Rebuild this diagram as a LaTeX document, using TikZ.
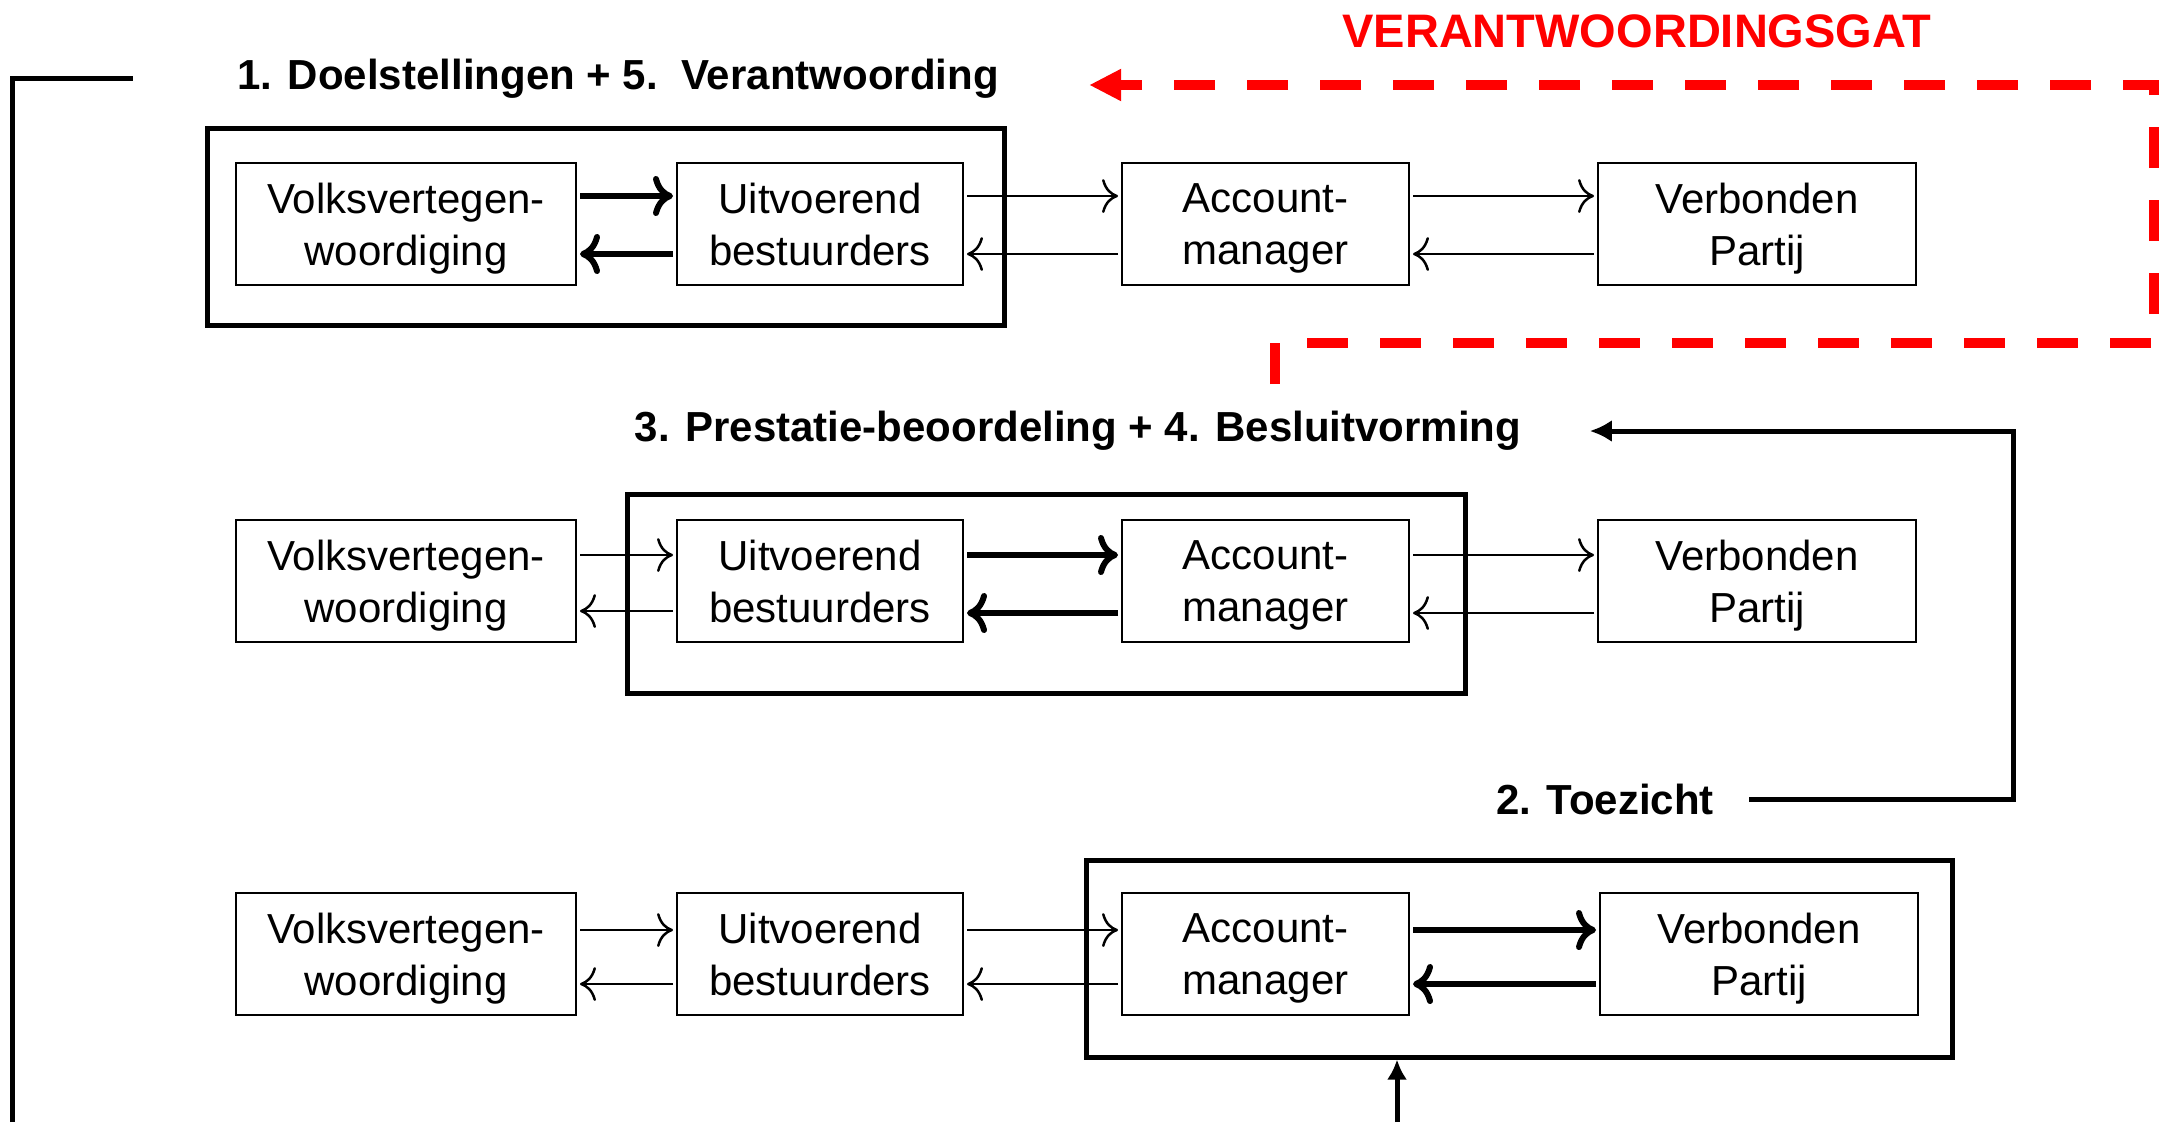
\documentclass[tikz,border=0pt]{standalone}
\usepackage{fontspec}
\setmainfont{Liberation Sans}
\usepackage{tikz}
\usetikzlibrary{arrows.meta}
\usetikzlibrary{positioning}
\usetikzlibrary{fit}

\begin{document}
\begin{tikzpicture}[x=1pt,y=1pt,
    blok/.style={draw,line width=2pt,minimum width=#1,minimum height=122pt,align=center,inner sep=0pt,text depth=0pt,font=\fontsize{42}{52}\selectfont},
    groep/.style={draw,line width=5pt,inner sep=0pt},
    kop/.style={font=\fontsize{42}{51}\selectfont\bfseries},
    dun/.style={line width=2.5pt,-{To[length=16pt,width=34pt]},shorten <=3pt,shorten >=3pt},
    dik/.style={line width=6pt,-{To[length=20pt,width=40pt]},shorten <=3pt,shorten >=3pt},
    gat/.style={draw=red,line width=10pt,dash pattern=on 41pt off 32pt,-{Triangle[length=32pt,width=30pt]}},
    lijn/.style={line width=5pt}]
    \useasboundingbox (0,0) rectangle (2175,-1122);

      \node[blok=340pt] (v1) at (406,-224) {Volksvertegen-\\woordiging};
      \node[blok=286pt,right=99pt of v1] (u1) {Uitvoerend\\bestuurders};
      \node[blok=287pt,right=157pt of u1] (a1) {Account-\\manager};
      \node[blok=318pt,right=187pt of a1] (p1) {Verbonden\\Partij};

      \node[blok=340pt,below=233pt of v1] (v2) {Volksvertegen-\\woordiging};
      \node[blok=286pt,right=99pt of v2] (u2) {Uitvoerend\\bestuurders};
      \node[blok=287pt,right=157pt of u2] (a2) {Account-\\manager};
      \node[blok=318pt,right=187pt of a2] (p2) {Verbonden\\Partij};

      \node[blok=340pt,below=249pt of v2] (v3) {Volksvertegen-\\woordiging};
      \node[blok=286pt,right=99pt of v3] (u3) {Uitvoerend\\bestuurders};
      \node[blok=287pt,right=157pt of u3] (a3) {Account-\\manager};
      \node[blok=318pt,right=189pt of a3] (p3) {Verbonden\\Partij};

      \node[groep,fit={([shift={(-28,34)}]v1.north west) ([shift={(40,-39)}]u1.south east)}] (g1) {};
      \node[groep,fit={([shift={(-49,25)}]u2.north west) ([shift={(55,-50)}]a2.south east)}] (g2) {};
      \node[groep,fit={([shift={(-35,32)}]a3.north west) ([shift={(33,-41)}]p3.south east)}] (g3) {};

      \node[kop] (t1) at (618,-79) {1. Doelstellingen + 5.\ \ Verantwoording};
      \node[kop] (t2) at (1078,-431) {3. Prestatie-beoordeling + 4. Besluitvorming};
      \node[kop] (t3) at (1605,-799) {2. Toezicht};
      \node[text=red,font=\fontsize{47}{56}\selectfont\bfseries] (gatlabel) at (1637,-31) {VERANTWOORDINGSGAT};

      \draw[dik] ([yshift=28pt]v1.east) -- ([yshift=28pt]u1.west);
      \draw[dik] ([yshift=-30pt]u1.west) -- ([yshift=-30pt]v1.east);
      \draw[dun] ([yshift=28pt]u1.east) -- ([yshift=28pt]a1.west);
      \draw[dun] ([yshift=-30pt]a1.west) -- ([yshift=-30pt]u1.east);
      \draw[dun] ([yshift=28pt]a1.east) -- ([yshift=28pt]p1.west);
      \draw[dun] ([yshift=-30pt]p1.west) -- ([yshift=-30pt]a1.east);

      \draw[dun] ([yshift=26pt]v2.east) -- ([yshift=26pt]u2.west);
      \draw[dun] ([yshift=-30pt]u2.west) -- ([yshift=-30pt]v2.east);
      \draw[dik] ([yshift=26pt]u2.east) -- ([yshift=26pt]a2.west);
      \draw[dik] ([yshift=-32pt]a2.west) -- ([yshift=-32pt]u2.east);
      \draw[dun] ([yshift=26pt]a2.east) -- ([yshift=26pt]p2.west);
      \draw[dun] ([yshift=-32pt]p2.west) -- ([yshift=-32pt]a2.east);

      \draw[dun] ([yshift=24pt]v3.east) -- ([yshift=24pt]u3.west);
      \draw[dun] ([yshift=-30pt]u3.west) -- ([yshift=-30pt]v3.east);
      \draw[dun] ([yshift=24pt]u3.east) -- ([yshift=24pt]a3.west);
      \draw[dun] ([yshift=-30pt]a3.west) -- ([yshift=-30pt]u3.east);
      \draw[dik] ([yshift=24pt]a3.east) -- ([yshift=24pt]p3.west);
      \draw[dik] ([yshift=-30pt]p3.west) -- ([yshift=-30pt]a3.east);

      \coordinate (gs) at (1275,-384);
      \coordinate (gr) at (2154,-343);
      \draw[gat] (gs) |- (gr) |- ([shift={(87pt,-6pt)}]t1.east);

      \coordinate (zr) at (2013,-799);
      \draw[lijn,-{Latex[length=22pt,width=22pt]}] ([xshift=32pt]t3.east) -- (zr) |- ([xshift=65pt]t2.east);

      \coordinate (lb) at (12,-1122);
      \coordinate (lt) at (133,-78);
      \draw[lijn] (lb) |- (lt);

      \coordinate (ob) at (1397,-1122);
      \draw[lijn,-{Latex[length=20pt,width=20pt]}] (ob) -- (ob |- g3.south);
\end{tikzpicture}
\end{document}
